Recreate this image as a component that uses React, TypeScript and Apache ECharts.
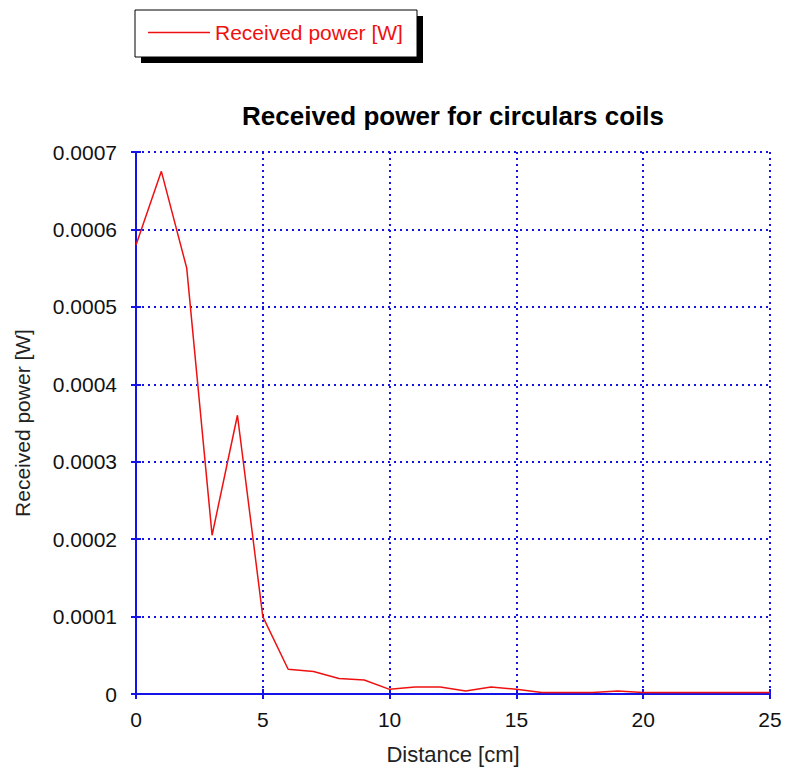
import React, { useEffect, useRef } from "react";
import * as echarts from "echarts";

const distances = [0, 1, 2, 3, 4, 5, 6, 7, 8, 9, 10, 11, 12, 13, 14, 15, 16, 17, 18, 19, 20, 21, 22, 23, 24, 25];
const receivedPower = [
  0.00058, 0.000675, 0.00055, 0.000205, 0.00036, 0.0001, 0.000032, 0.000029, 0.00002, 0.000018,
  0.000006, 0.000009, 0.000009, 0.000004, 0.000009, 0.000006, 0.000002, 0.000002, 0.000002, 0.000004,
  0.000002, 0.000002, 0.000002, 0.000002, 0.000002, 0.000002,
];
const seriesName = "Received power [W]";
const titleText = "Received power for circulars coils";
const xName = "Distance [cm]";
const yName = "Received power [W]";

const BLUE = "#1414e6";
const RED = "#ee1111";
const FONT = "Liberation Sans, Arial, sans-serif";

export default function App() {
  const ref = useRef<HTMLDivElement>(null);
  useEffect(() => {
    if (!ref.current) return;
    const chart = echarts.init(ref.current, undefined, { renderer: "svg" });
    const data = distances.map((d, i) => [d, receivedPower[i]]);
    const axisCommon = {
      axisLine: { show: true, lineStyle: { color: BLUE, width: 2 } },
      axisTick: { show: true, inside: true, length: 5, lineStyle: { color: BLUE, width: 2 } },
    };
    chart.setOption({
      animation: false,
      backgroundColor: "#ffffff",
      title: {
        text: titleText,
        left: 448,
        textAlign: "center",
        top: 98,
        textStyle: { fontFamily: FONT, fontSize: 26, fontWeight: "bold", color: "#000" },
      },
      graphic: [
        { type: "rect", z: 0, shape: { x: 141, y: 16, width: 282, height: 47 }, style: { fill: "#000" } },
        { type: "rect", z: 1, shape: { x: 135, y: 10, width: 282, height: 47 }, style: { fill: "#fff", stroke: "#000", lineWidth: 1 } },
      ],
      legend: {
        left: 143,
        top: 17,
        z: 10,
        itemWidth: 62,
        itemHeight: 1.5,
        icon: "rect",
        itemStyle: { color: RED },
        data: [seriesName],
        textStyle: { fontFamily: FONT, fontSize: 21, color: RED },
      },
      grid: { left: 136, right: 15, top: 152, bottom: 77, containLabel: false },
      xAxis: [
        {
          type: "value",
          min: 0,
          max: 25,
          interval: 5,
          name: xName,
          nameLocation: "middle",
          nameGap: 49,
          nameTextStyle: { fontFamily: FONT, fontSize: 22, color: "#222" },
          axisLabel: { fontFamily: FONT, fontSize: 21, color: "#111", margin: 15 },
          splitLine: { show: true, lineStyle: { color: BLUE, type: [2, 4], width: 2 } },
          ...axisCommon,
        },
        {
          type: "value",
          position: "top",
          min: 0,
          max: 25,
          interval: 5,
          axisLabel: { show: false },
          splitLine: { show: false },
          ...axisCommon,
        },
      ],
      yAxis: [
        {
          type: "value",
          min: 0,
          max: 0.0007,
          interval: 0.0001,
          name: yName,
          nameLocation: "middle",
          nameGap: 103,
          nameTextStyle: { fontFamily: FONT, fontSize: 21, color: "#222" },
          axisLabel: {
            fontFamily: FONT,
            fontSize: 21,
            color: "#111",
            margin: 19,
            formatter: (v: number) => (v === 0 ? "0" : v.toFixed(4)),
          },
          splitLine: { show: true, lineStyle: { color: BLUE, type: [2, 4], width: 2 } },
          ...axisCommon,
        },
        {
          type: "value",
          position: "right",
          min: 0,
          max: 0.0007,
          interval: 0.0001,
          axisLabel: { show: false },
          splitLine: { show: false },
          ...axisCommon,
        },
      ],
      series: [
        {
          name: seriesName,
          type: "line",
          data,
          symbol: "none",
          showSymbol: false,
          lineStyle: { color: RED, width: 1.5 },
          itemStyle: { color: RED },
          z: 5,
        },
      ],
    });
    return () => chart.dispose();
  }, []);
  return <div ref={ref} style={{ width: 785, height: 771, position: "absolute", left: 0, top: 0 }} />;
}
